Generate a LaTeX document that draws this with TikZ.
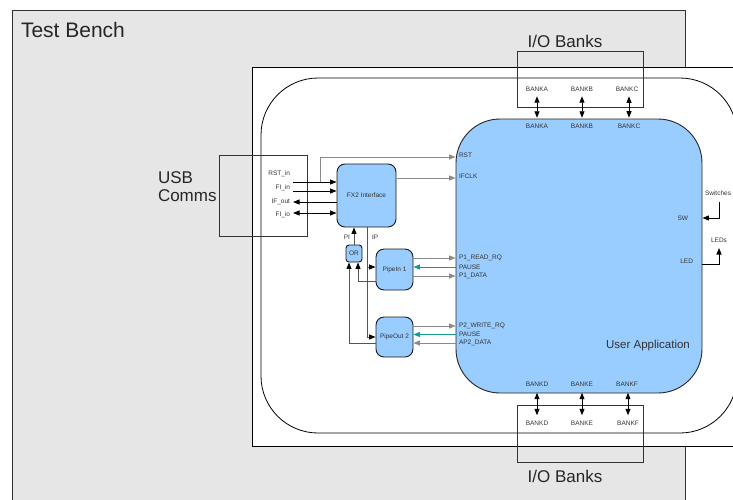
\documentclass[tikz,border=0pt]{standalone}
\usepackage{fontspec}
\setmainfont{Liberation Sans}
\usetikzlibrary{arrows.meta,calc}
\definecolor{tbgray}{HTML}{E6E6E6}
\definecolor{appblue}{HTML}{99CCFF}
\definecolor{txt}{HTML}{333333}
\definecolor{tealc}{HTML}{129A8E}
\definecolor{arrgray}{HTML}{8A8A8A}
\definecolor{darkln}{HTML}{555555}
\begin{document}
\begin{tikzpicture}[x=1pt,y=-1pt,
  lbl/.style={inner sep=0pt, outer sep=0pt, text=txt, font=\fontsize{6.5}{7.5}\selectfont},
  big/.style={inner sep=0pt, outer sep=0pt, text=black!85, align=left},
  blk/.style={draw=black!90, fill=appblue, line width=0.9pt, rounded corners=8pt, inner sep=1pt, text=txt, font=\fontsize{6.5}{7.5}\selectfont},
  box/.style={draw=black!80, line width=0.9pt, inner sep=0pt},
  barr/.style={draw=black, line width=0.9pt, -{Triangle[length=6.5pt,width=5pt]}},
  bdbl/.style={draw=black, line width=0.9pt, {Triangle[length=6.5pt,width=5pt]}-{Triangle[length=6.5pt,width=5pt]}},
  darr/.style={draw=darkln, line width=0.9pt, -{Triangle[length=6.5pt,width=5pt,color=black]}},
  garr/.style={draw=arrgray, line width=0.9pt, -{Triangle[length=6.5pt,width=5pt]}},
  tarr/.style={draw=tealc, line width=0.9pt, -{Triangle[length=6.5pt,width=5pt]}}
]
\useasboundingbox (0,0) rectangle (733,499);
\clip (0,0) rectangle (733,499);
% Test bench
\draw[fill=tbgray, draw=black!80, line width=0.9pt] (12,10) rectangle (685,530);
\node[big, anchor=base west, font=\fontsize{21}{25}\selectfont] (tb) at (21,37) {Test Bench};
% FPGA area
\draw[fill=white, draw=black, line width=0.9pt] (252,67) rectangle (780,446);
\draw[draw=black, line width=0.8pt, rounded corners=57pt] (261,78) rectangle (737,433);
% I/O bank boxes
\node[box, minimum width=126pt, minimum height=56pt] (iotop) at (580,79) {};
\node[box, minimum width=126pt, minimum height=57pt] (iobot) at (580,433.5) {};
\node[big, font=\fontsize{17}{20}\selectfont] (iotl) at (565,41) {I/O Banks};
\node[big, font=\fontsize{17}{20}\selectfont] (iobl) at (565,476) {I/O Banks};
% User application
\node[draw=black!85, fill=appblue, line width=0.9pt, rounded corners=44pt, minimum width=246pt, minimum height=274pt, inner sep=0pt] (ua) at (579,256) {};
\node[big, font=\fontsize{11.5}{14}\selectfont, text=txt] (ual) at (648,346) {User Application};
% bank labels
\node[lbl] (ta) at (537,89) {BANKA};
\node[lbl] (tb2) at (582,89) {BANKB};
\node[lbl] (tc) at (627,89) {BANKC};
\node[lbl] (ua1) at (537,126) {BANKA};
\node[lbl] (ua2) at (582,126) {BANKB};
\node[lbl] (ua3) at (629,126) {BANKC};
\node[lbl] (ud) at (537,384) {BANKD};
\node[lbl] (ue) at (582,384) {BANKE};
\node[lbl] (uf) at (627,384) {BANKF};
\node[lbl] (bd) at (537,423) {BANKD};
\node[lbl] (be) at (582,423) {BANKE};
\node[lbl] (bf) at (628,423) {BANKF};
\draw[bdbl, shorten <=5pt, shorten >=6pt] (ta.south) -- (ua1.north -| ta.south);
\draw[bdbl, shorten <=5pt, shorten >=6pt] (tb2.south) -- (ua2.north -| tb2.south);
\draw[bdbl, shorten <=5pt, shorten >=6pt] (tc.south -| ua3.north) -- (ua3.north);
\draw[bdbl, shorten <=6.5pt, shorten >=5.5pt] (ud.south) -- (bd.north -| ud.south);
\draw[bdbl, shorten <=6.5pt, shorten >=5.5pt] (ue.south) -- (be.north -| ue.south);
\draw[bdbl, shorten <=6.5pt, shorten >=5.5pt] (uf.south -| bf.north) -- (bf.north);
% USB comms
\node[box, minimum width=88pt, minimum height=81pt] (usb) at (263,195.5) {};
\node[big, anchor=base west, font=\fontsize{17}{18}\selectfont] (usbl) at (158,201) {USB\\Comms};
\node[lbl, anchor=east] (rstin) at (290,174) {RST\_in};
\node[lbl, anchor=east] (fiin) at (290,188) {FI\_in};
\node[lbl, anchor=east] (ifout) at (290,202) {IF\_out};
\node[lbl, anchor=east] (fiio) at (290,215) {FI\_io};
% FX2 and pipes
\node[blk, minimum width=59pt, minimum height=63pt] (fx2) at (366.5,195.5) {FX2 Interface};
\node[blk, rounded corners=3pt, minimum width=16pt, minimum height=17pt, inner sep=0pt] (or) at (354,253.5) {OR};
\node[blk, minimum width=37pt, minimum height=41pt] (pin) at (394.5,269.5) {PipeIn 1};
\node[blk, minimum width=37pt, minimum height=40pt] (pout) at (394.5,337) {PipeOut 2};
% USB arrows
\coordinate (c1) at (293,182);
\coordinate (c2) at (293,191);
\coordinate (c3) at (293,202);
\coordinate (c4) at (293,213);
\draw[barr] (c1) -- (c1 -| fx2.west);
\draw[barr] (c2) -- (c2 -| fx2.west);
\draw[barr] (c3 -| fx2.west) -- (c3);
\draw[bdbl] (c4) -- (c4 -| fx2.west);
% UA left labels
\node[lbl, anchor=west] (rst) at (459,155) {RST};
\node[lbl, anchor=west] (ifclk) at (459,176) {IFCLK};
\node[lbl, anchor=west] (p1rr) at (459,258) {P1\_READ\_RQ};
\node[lbl, anchor=west] (pa1) at (459,267) {PAUSE};
\node[lbl, anchor=west] (p1d) at (459,276) {P1\_DATA};
\node[lbl, anchor=west] (p2w) at (459,326) {P2\_WRITE\_RQ};
\node[lbl, anchor=west] (pa2) at (459,334.5) {PAUSE};
\node[lbl, anchor=west] (ap2) at (459,343) {AP2\_DATA};
\coordinate (rj) at (320,182);
\coordinate (ry) at (0,157);
\coordinate (iy) at (0,178);
\draw[garr] (rj) |- (ua.west |- ry);
\draw[garr] (fx2.east |- iy) -- (ua.west |- iy);
\draw[garr] (pin.east |- p1rr) -- (ua.west |- p1rr);
\draw[tarr] (ua.west |- pa1) -- (pin.east |- pa1);
\draw[garr] (pin.east |- p1d) -- (ua.west |- p1d);
\draw[garr] (pout.east |- p2w) -- (ua.west |- p2w);
\draw[tarr] (ua.west |- pa2) -- (pout.east |- pa2);
\draw[garr] (ua.west |- ap2) -- (pout.east |- ap2);
% PI / IP
\node[lbl, anchor=east] (pil) at (350,237) {PI};
\node[lbl, anchor=west] (ipl) at (372,237) {IP};
\draw[darr] (or.north) -- (fx2.south -| or.north);
\coordinate (ipx) at (367,0);
\draw[darr] (fx2.south -| ipx) |- (pout.west);
\coordinate (ipb) at (367,267);
\draw[darr] (ipb) -- (ipb -| pin.west);
\coordinate (o1) at (358,281);
\coordinate (o2) at (349,343);
\draw[darr] (o1 -| pin.west) -| (or.south -| o1);
\draw[darr] (o2 -| pout.west) -| (or.south -| o2);
% switches / LEDs
\node[lbl, anchor=east] (sw) at (688,218) {SW};
\node[lbl, anchor=east] (led) at (693,261) {LED};
\node[lbl] (swt) at (718,193) {Switches};
\node[lbl] (leds) at (719,240) {LEDs};
\coordinate (sc) at (719,202);
\coordinate (lc) at (719,248);
\draw[barr] (sc) |- (ua.east |- sw);
\draw[barr] (ua.east |- 0,264) -| (lc);
\end{tikzpicture}
\end{document}
